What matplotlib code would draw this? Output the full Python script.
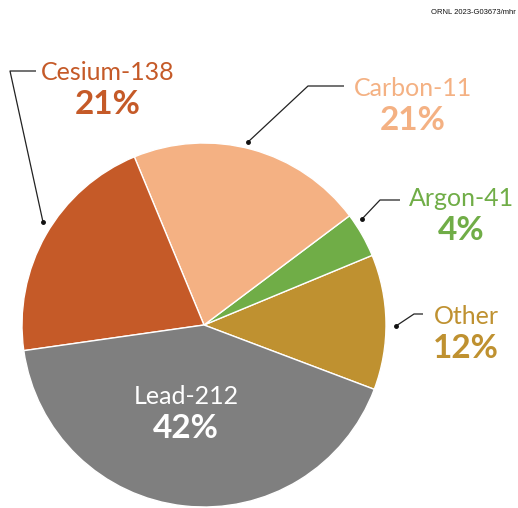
import matplotlib
matplotlib.use("Agg")
import matplotlib.pyplot as plt

# Data (counter-clockwise order starting at Other)
labels = ["Other", "Argon-41", "Carbon-11", "Cesium-138", "Lead-212"]
values = [12, 4, 21, 21, 42]
pct_labels = ["12%", "4%", "21%", "21%", "42%"]
colors = ["#bf9130", "#70ad47", "#f4b183", "#c55a28", "#7f7f7f"]
text_colors = ["#bf9130", "#70ad47", "#f4b183", "#c55a28", "#ffffff"]

W, H = 518, 508
fig = plt.figure(figsize=(W / 100, H / 100), dpi=100)
ax = fig.add_axes([0, 0, 1, 1])
ax.set_xlim(0, W)
ax.set_ylim(0, H)
ax.set_aspect("equal")
ax.axis("off")

def Y(y):
    return H - y

cx, cy, r = 204, Y(325), 182
ax.pie(values, colors=colors, startangle=-20.7, counterclock=True,
       center=(cx, cy), radius=r, frame=True,
       wedgeprops=dict(edgecolor="white", linewidth=1))
ax.set_xlim(0, W)
ax.set_ylim(0, H)
ax.axis("off")

font = "Lato"
# label positions (text centers) in image px
text_pos = {
    "Other": (466, 316),
    "Argon-41": (461, 198),
    "Carbon-11": (413, 88),
    "Cesium-138": (108, 73),
    "Lead-212": (186, 397),
}
gap = 32
for lab, pct, tc in zip(labels, pct_labels, text_colors):
    x, y = text_pos[lab]
    ax.text(x, Y(y), lab, color=tc, fontsize=18, family=font,
            ha="center", va="center")
    ax.text(x, Y(y + gap), pct, color=tc, fontsize=24, family=font,
            fontweight="bold", ha="center", va="center")

# leader lines: (points in image px), last point has a dot
leaders = [
    [(344, 86), (308, 86), (248, 142)],
    [(400, 200), (380, 200), (362, 219)],
    [(423, 314), (414, 314), (396, 326)],
    [(36, 71), (10, 71), (43, 222)],
]
for pts in leaders:
    xs = [p[0] for p in pts]
    ys = [Y(p[1]) for p in pts]
    ax.plot(xs, ys, color="#222222", lw=0.9, solid_capstyle="butt")
    ax.plot(xs[-1], ys[-1], "o", color="#111111", ms=2.5)

ax.text(516, Y(12), "ORNL 2023-G03673/mhr", fontsize=5.5, family="Liberation Sans",
        ha="right", va="center", color="#111111")

fig.savefig("out.png", dpi=100)
